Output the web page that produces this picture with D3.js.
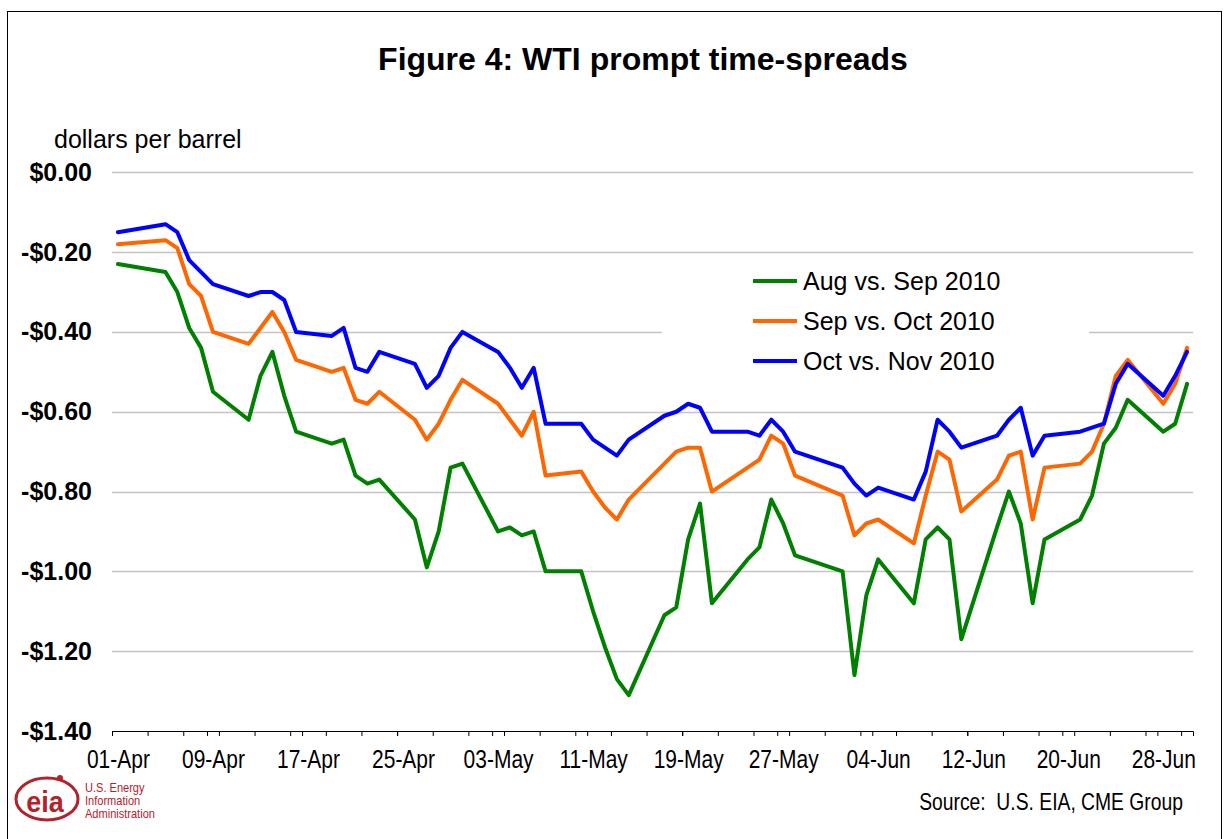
<!DOCTYPE html>
<html lang="en">
<head>
<meta charset="UTF-8">
<title>Figure 4: WTI prompt time-spreads</title>
<script src="https://d3js.org/d3.v7.min.js"></script>
<style>
  body { margin: 0; background: #fff; }
  svg { display: block; font-family: "Liberation Sans", Arial, sans-serif; }
</style>
</head>
<body>
<div id="chart"></div>
<script>
// trading days, Apr-Jun 2010 (Good Friday and Memorial Day closed)
const tradeDays = [
  "2010-04-01", "2010-04-05", "2010-04-06", "2010-04-07", "2010-04-08", "2010-04-09",
  "2010-04-12", "2010-04-13", "2010-04-14", "2010-04-15", "2010-04-16",
  "2010-04-19", "2010-04-20", "2010-04-21", "2010-04-22", "2010-04-23",
  "2010-04-26", "2010-04-27", "2010-04-28", "2010-04-29", "2010-04-30",
  "2010-05-03", "2010-05-04", "2010-05-05", "2010-05-06", "2010-05-07",
  "2010-05-10", "2010-05-11", "2010-05-12", "2010-05-13", "2010-05-14",
  "2010-05-17", "2010-05-18", "2010-05-19", "2010-05-20", "2010-05-21",
  "2010-05-24", "2010-05-25", "2010-05-26", "2010-05-27", "2010-05-28",
  "2010-06-01", "2010-06-02", "2010-06-03", "2010-06-04",
  "2010-06-07", "2010-06-08", "2010-06-09", "2010-06-10", "2010-06-11",
  "2010-06-14", "2010-06-15", "2010-06-16", "2010-06-17", "2010-06-18",
  "2010-06-21", "2010-06-22", "2010-06-23", "2010-06-24", "2010-06-25",
  "2010-06-28", "2010-06-29", "2010-06-30"
];

const augSep = [
  -0.23, -0.25, -0.30, -0.39, -0.44, -0.55,
  -0.62, -0.51, -0.45, -0.56, -0.65,
  -0.68, -0.67, -0.76, -0.78, -0.77,
  -0.87, -0.99, -0.90, -0.74, -0.73,
  -0.90, -0.89, -0.91, -0.90, -1.00,
  -1.00, -1.10, -1.19, -1.27, -1.31,
  -1.11, -1.09, -0.92, -0.83, -1.08,
  -0.97, -0.94, -0.82, -0.88, -0.96,
  -1.00, -1.26, -1.06, -0.97,
  -1.08, -0.92, -0.89, -0.92, -1.17,
  -0.89, -0.80, -0.88, -1.08, -0.92,
  -0.87, -0.81, -0.68, -0.64, -0.57,
  -0.65, -0.63, -0.53
];

const sepOct = [
  -0.18, -0.17, -0.19, -0.28, -0.31, -0.40,
  -0.43, -0.39, -0.35, -0.40, -0.47,
  -0.50, -0.49, -0.57, -0.58, -0.55,
  -0.62, -0.67, -0.63, -0.57, -0.52,
  -0.58, -0.62, -0.66, -0.60, -0.76,
  -0.75, -0.80, -0.84, -0.87, -0.82,
  -0.73, -0.70, -0.69, -0.69, -0.80,
  -0.74, -0.72, -0.66, -0.68, -0.76,
  -0.81, -0.91, -0.88, -0.87,
  -0.93, -0.81, -0.70, -0.72, -0.85,
  -0.77, -0.71, -0.70, -0.87, -0.74,
  -0.73, -0.70, -0.63, -0.51, -0.47,
  -0.58, -0.53, -0.44
];

const octNov = [
  -0.15, -0.13, -0.15, -0.22, -0.25, -0.28,
  -0.31, -0.30, -0.30, -0.32, -0.40,
  -0.41, -0.39, -0.49, -0.50, -0.45,
  -0.48, -0.54, -0.51, -0.44, -0.40,
  -0.45, -0.49, -0.54, -0.49, -0.63,
  -0.63, -0.67, -0.69, -0.71, -0.67,
  -0.61, -0.60, -0.58, -0.59, -0.65,
  -0.65, -0.66, -0.62, -0.65, -0.70,
  -0.74, -0.78, -0.81, -0.79,
  -0.82, -0.75, -0.62, -0.65, -0.69,
  -0.66, -0.62, -0.59, -0.71, -0.66,
  -0.65, -0.64, -0.63, -0.53, -0.48,
  -0.56, -0.51, -0.45
];

const seriesNames = ["Aug vs. Sep 2010", "Sep vs. Oct 2010", "Oct vs. Nov 2010"];
const seriesColors = ["#008000", "#ff6600", "#0000ff"];
const yTicks = [0, -0.2, -0.4, -0.6, -0.8, -1.0, -1.2, -1.4];

const width = 1228, height = 839;

const svg = d3.select("#chart")
  .append("svg")
  .attr("width", width)
  .attr("height", height);

// frame
svg.append("rect")
  .attr("x", 7.5).attr("y", 11.5)
  .attr("width", 1214).attr("height", 900)
  .attr("fill", "none")
  .attr("stroke", "#000")
  .attr("stroke-width", 1);

const parse = d3.utcParse("%Y-%m-%d");
const start = parse("2010-04-01"), end = parse("2010-07-01");

const x = d3.scaleUtc().domain([start, end]).range([112, 1193]);
const y = d3.scaleLinear().domain([-1.4, 0]).range([731, 172.3]);
const halfDay = (x(d3.utcDay.offset(start, 1)) - x(start)) / 2;

// title and unit
svg.append("text")
  .attr("x", 643).attr("y", 70)
  .attr("text-anchor", "middle")
  .style("font-size", "32px")
  .style("font-weight", "bold")
  .text("Figure 4: WTI prompt time-spreads");

svg.append("text")
  .attr("x", 54).attr("y", 148)
  .style("font-size", "25px")
  .text("dollars per barrel");

// gridlines
svg.append("g")
  .selectAll("line")
  .data(yTicks.slice(0, -1))
  .enter()
  .append("line")
  .attr("x1", 112).attr("x2", 1193)
  .attr("y1", d => Math.round(y(d)) + 0.5)
  .attr("y2", d => Math.round(y(d)) + 0.5)
  .attr("stroke", "#c4c4c4")
  .attr("stroke-width", 1.3);

// y labels
const yAxis = svg.append("g")
  .attr("transform", "translate(112,0)")
  .call(d3.axisLeft(y).tickValues(yTicks).tickSize(0).tickPadding(20)
    .tickFormat(d => (d < 0 ? "-$" : "$") + Math.abs(d).toFixed(2)));
yAxis.select(".domain").remove();
yAxis.selectAll("text")
  .style("font-family", "'Liberation Sans', Arial, sans-serif")
  .style("font-size", "25px")
  .style("font-weight", "bold")
  .attr("fill", "#000");

// legend box (covers gridline behind it)
svg.append("rect")
  .attr("x", 662).attr("y", 258)
  .attr("width", 427).attr("height", 134)
  .attr("fill", "#fff");

// series
const line = d3.line()
  .x(d => x(d3.utcHour.offset(parse(d.date), 12)))
  .y(d => y(d.value));

const allSeries = [augSep, sepOct, octNov].map((vals, i) => ({
  name: seriesNames[i],
  color: seriesColors[i],
  values: tradeDays.map((date, j) => ({ date: date, value: vals[j] }))
}));

svg.append("g")
  .selectAll("path")
  .data(allSeries)
  .enter()
  .append("path")
  .attr("d", d => line(d.values))
  .attr("fill", "none")
  .attr("stroke", d => d.color)
  .attr("stroke-width", 4)
  .attr("stroke-linejoin", "round")
  .attr("stroke-linecap", "round");

// x axis: minor ticks every 3 days, labelled ticks every 8 days
const minorDays = d3.range(0, 91, 3).map(n => d3.utcDay.offset(start, n));
const majorDays = d3.range(0, 91, 8).map(n => d3.utcDay.offset(start, n));

const xMinor = svg.append("g")
  .attr("transform", "translate(0,731)")
  .call(d3.axisBottom(x).tickValues(minorDays).tickSize(5).tickFormat(""));
xMinor.select(".domain").attr("stroke", "#000");

const xMajor = svg.append("g")
  .attr("transform", "translate(0,731)")
  .call(d3.axisBottom(x).tickValues(majorDays).tickSize(5).tickPadding(14)
    .tickFormat(d3.utcFormat("%d-%b")));
xMajor.select(".domain").remove();
xMajor.selectAll("text")
  .style("font-family", "'Liberation Sans', Arial, sans-serif")
  .style("font-size", "25px")
  .attr("fill", "#000")
  .attr("dy", "0.71em")
  .attr("transform", `translate(${halfDay},0) scale(0.84,1)`);

// legend entries
const legend = svg.append("g")
  .attr("transform", "translate(753,281)");

const entry = legend.selectAll("g")
  .data(allSeries)
  .enter()
  .append("g")
  .attr("transform", (d, i) => `translate(0,${i * 40})`);

entry.append("line")
  .attr("x1", 0).attr("x2", 44)
  .attr("stroke", d => d.color)
  .attr("stroke-width", 4);

entry.append("text")
  .attr("x", 50).attr("y", 9)
  .style("font-size", "25px")
  .text(d => d.name);

// source note
svg.append("text")
  .attr("transform", "translate(1183,810) scale(0.84,1)")
  .attr("text-anchor", "end")
  .style("font-size", "23px")
  .style("white-space", "pre")
  .text("Source:  U.S. EIA, CME Group");

// EIA logo
const logoRed = "#b3222b";
const logo = svg.append("g");
logo.append("ellipse")
  .attr("cx", 47).attr("cy", 799)
  .attr("rx", 31).attr("ry", 21)
  .attr("fill", "none")
  .attr("stroke", logoRed)
  .attr("stroke-width", 3);
logo.append("text")
  .attr("transform", "translate(45,812) scale(0.9,1)")
  .attr("text-anchor", "middle")
  .style("font-size", "30px")
  .style("font-weight", "bold")
  .attr("fill", logoRed)
  .text("eia");
logo.append("circle")
  .attr("cx", 60).attr("cy", 778).attr("r", 3)
  .attr("fill", logoRed);

logo.selectAll("text.org")
  .data(["U.S. Energy", "Information", "Administration"])
  .enter()
  .append("text")
  .attr("class", "org")
  .attr("transform", (d, i) => `translate(85,${792 + i * 13}) scale(0.85,1)`)
  .style("font-size", "13px")
  .attr("fill", logoRed)
  .text(d => d);
</script>
</body>
</html>
